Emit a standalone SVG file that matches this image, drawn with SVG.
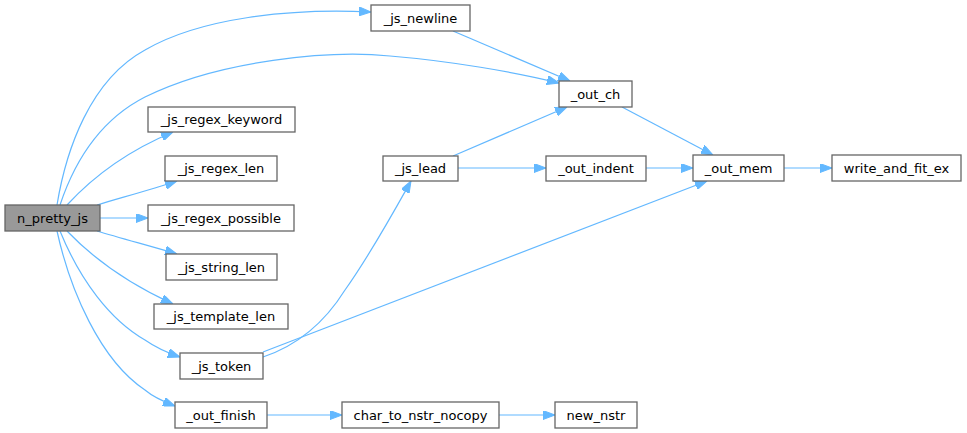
<svg xmlns="http://www.w3.org/2000/svg" width="967" height="433" viewBox="0 0 967 433">
<defs>
<marker id="ah" viewBox="0 0 12 9" refX="12" refY="4.5" markerWidth="12" markerHeight="9" markerUnits="userSpaceOnUse" orient="auto">
<path d="M0,0 L12,4.5 L0,9 z" fill="#63b8ff" stroke="#63b8ff" stroke-width="1"/>
</marker>
<style>
.n rect{fill:#fff;stroke:#666;stroke-width:1.3}
.n text{font-family:"DejaVu Sans",sans-serif;font-size:13px;fill:#000;text-anchor:middle}
#n0 rect{fill:#999}
.e path{fill:none;stroke:#63b8ff;stroke-width:1.2;marker-end:url(#ah)}
</style>
</defs>
<rect width="967" height="433" fill="#fff"/>
<g class="e" id="edges">
<path d="M57,205 C66,150 90,80 145,50 C200,18 290,8 371,12"/>
<path d="M60,205 C75,160 100,120 145,97 C220,60 330,50 390,56 C450,61 515,72 559,83"/>
<path d="M67,205 C90,180 125,152 173,132"/>
<path d="M97,205 C120,198 150,190 177,181"/>
<path d="M100,218 L148,218"/>
<path d="M97,231 C120,238 150,246 177,254"/>
<path d="M67,231 C90,255 125,282 173,304"/>
<path d="M60,231 C80,280 110,320 145,340 C155,347 168,353 180,357"/>
<path d="M57,231 C70,290 100,360 145,390 C152,396 162,401 175,406"/>
<path d="M267,415 L342,415"/>
<path d="M499,415 L555,415"/>
<path d="M263,357 C290,348 320,330 345,290 C370,255 392,215 411,181"/>
<path d="M263,352 L707,181"/>
<path d="M453,156 L567,107"/>
<path d="M458,168 L546,168"/>
<path d="M453,31 L570,81"/>
<path d="M622,107 L713,155"/>
<path d="M646,168 L693,168"/>
<path d="M784,168 L832,168"/>
</g>
<g class="n" id="n0"><rect x="5" y="205" width="95" height="26"/><text x="52.5" y="222.5">n_pretty_js</text></g>
<g class="n" id="n1"><rect x="371" y="5" width="99" height="26"/><text x="420.5" y="22.5">_js_newline</text></g>
<g class="n" id="n2"><rect x="148" y="107" width="147" height="25"/><text x="221.5" y="124">_js_regex_keyword</text></g>
<g class="n" id="n3"><rect x="165" y="156" width="112" height="25"/><text x="221" y="173">_js_regex_len</text></g>
<g class="n" id="n4"><rect x="148" y="205" width="146" height="26"/><text x="221" y="222.5">_js_regex_possible</text></g>
<g class="n" id="n5"><rect x="166" y="254" width="111" height="26"/><text x="221.5" y="271.5">_js_string_len</text></g>
<g class="n" id="n6"><rect x="154" y="304" width="134" height="25"/><text x="221" y="321">_js_template_len</text></g>
<g class="n" id="n7"><rect x="180" y="353" width="83" height="26"/><text x="221.5" y="370.5">_js_token</text></g>
<g class="n" id="n8"><rect x="175" y="402" width="92" height="26"/><text x="221" y="419.5">_out_finish</text></g>
<g class="n" id="n9"><rect x="342" y="402" width="157" height="26"/><text x="420.5" y="419.5">char_to_nstr_nocopy</text></g>
<g class="n" id="n10"><rect x="555" y="402" width="82" height="26"/><text x="596" y="419.5">new_nstr</text></g>
<g class="n" id="n11"><rect x="383" y="156" width="75" height="25"/><text x="420.5" y="173">_js_lead</text></g>
<g class="n" id="n12"><rect x="559" y="81" width="73" height="26"/><text x="595.5" y="98.5">_out_ch</text></g>
<g class="n" id="n13"><rect x="546" y="156" width="100" height="25"/><text x="596" y="173">_out_indent</text></g>
<g class="n" id="n14"><rect x="693" y="155" width="91" height="26"/><text x="738.5" y="172.5">_out_mem</text></g>
<g class="n" id="n15"><rect x="832" y="155" width="129" height="26"/><text x="896.5" y="172.5">write_and_fit_ex</text></g>
</svg>
